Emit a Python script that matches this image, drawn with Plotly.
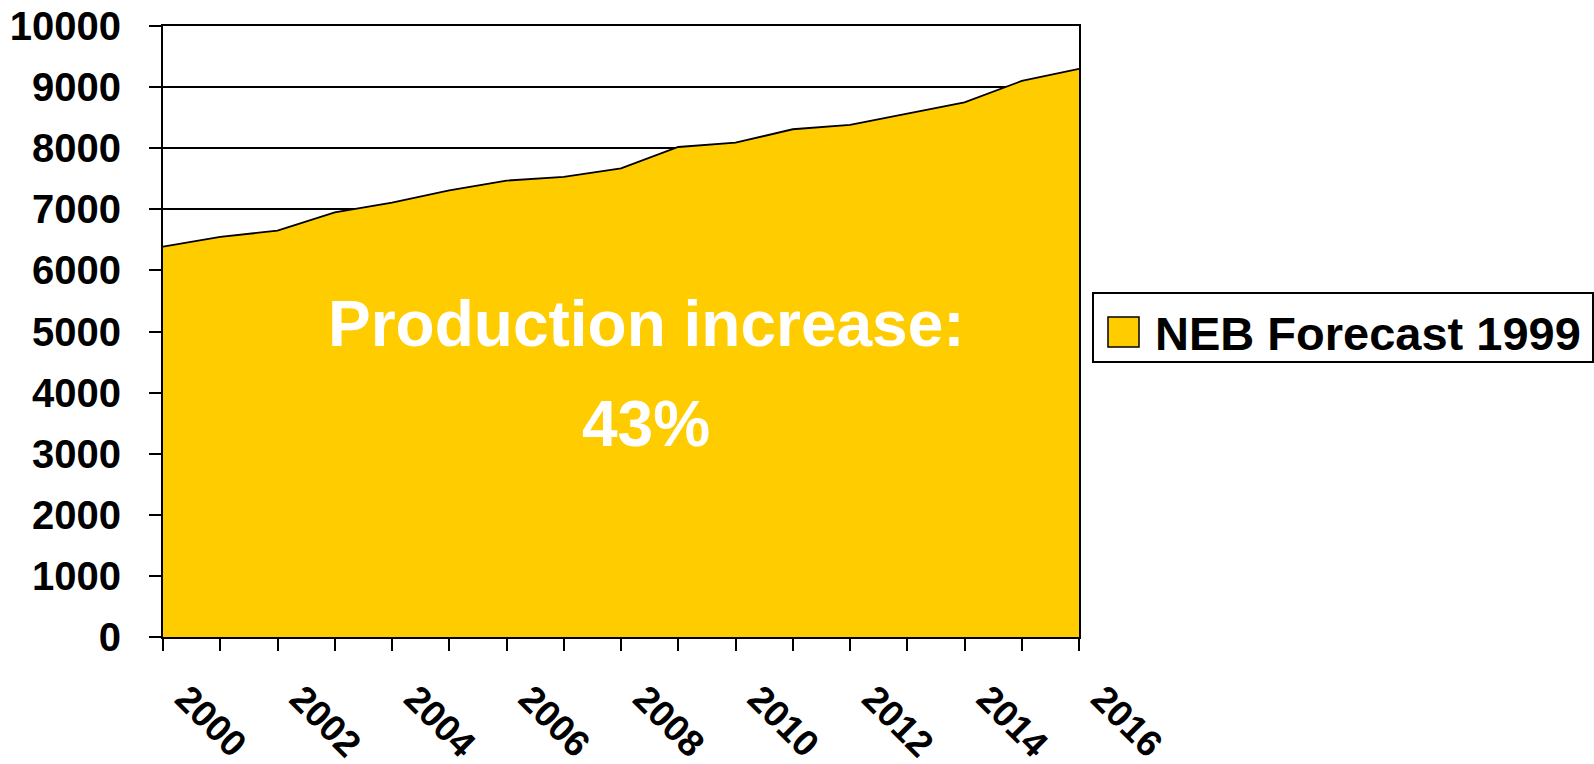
import plotly.graph_objects as go

years = list(range(2000, 2017))
production = [6390, 6550, 6650, 6950, 7110, 7310, 7470, 7530, 7670,
              8020, 8090, 8310, 8380, 8560, 8750, 9100, 9300]
series_name = "NEB Forecast 1999"
note_lines = ["Production increase:", "43%"]

W, H = 1594, 764
ML, MR, MT, MB = 163, 515, 26, 127
PW, PH = W - ML - MR, H - MT - MB

def px(x):
    return (x - ML) / PW

def py(y):
    return (H - MB - y) / PH

GOLD = "#FFCC00"
FONT = "Liberation Sans, Arial, sans-serif"

fig = go.Figure()
fig.add_trace(go.Scatter(
    x=years, y=production, mode="lines", fill="tozeroy",
    fillcolor=GOLD, line=dict(color="black", width=1.8),
    name=series_name, showlegend=False, hoverinfo="x+y"))

fig.update_layout(
    width=W, height=H,
    margin=dict(l=ML, r=MR, t=MT, b=MB, autoexpand=False),
    paper_bgcolor="white", plot_bgcolor="white",
    font=dict(family=FONT, color="black"),
    showlegend=False,
)
fig.update_xaxes(
    range=[2000, 2016], tick0=2000, dtick=2, automargin=False,
    ticks="outside", ticklen=12, tickwidth=2, tickcolor="black",
    tickangle=45, ticklabelstandoff=11, ticklabelshift=23,
    tickfont=dict(size=37, family=FONT, weight="bold", color="black"),
    showline=True, linecolor="black", linewidth=2, mirror=True,
    showgrid=False, zeroline=False,
    minor=dict(dtick=1, tick0=2000, ticks="outside", ticklen=12,
               tickwidth=2, tickcolor="black", showgrid=False),
)
fig.update_yaxes(
    range=[0, 10000], dtick=1000, tickformat="d", automargin=False,
    ticks="outside", ticklen=12, tickwidth=2, tickcolor="black",
    ticklabelstandoff=20,
    tickfont=dict(size=40, family=FONT, weight="bold", color="black"),
    showline=True, linecolor="black", linewidth=2, mirror=True,
    showgrid=True, gridcolor="black", gridwidth=1.5, zeroline=False,
)

# in-chart note, one annotation per line to keep the wide line spacing
note_font = dict(size=64, family=FONT, weight="bold", color="white")
fig.add_annotation(
    x=2008.44, y=5130, xref="x", yref="y", text=note_lines[0],
    showarrow=False, xanchor="center", yanchor="middle", font=note_font)
fig.add_annotation(
    x=2008.44, y=3490, xref="x", yref="y", text=note_lines[1],
    showarrow=False, xanchor="center", yanchor="middle", font=note_font)

# legend box (drawn manually to match the large swatch)
fig.add_shape(type="rect", xref="paper", yref="paper",
              x0=px(1093), x1=px(1593), y0=py(362), y1=py(293),
              line=dict(color="black", width=2), fillcolor="white")
fig.add_shape(type="rect", xref="paper", yref="paper",
              x0=px(1108), x1=px(1139), y0=py(347), y1=py(317),
              line=dict(color="black", width=1.5), fillcolor=GOLD)
fig.add_annotation(
    x=px(1153), y=py(333), xref="paper", yref="paper", text=series_name,
    showarrow=False, xanchor="left", yanchor="middle",
    font=dict(size=47, family=FONT, weight="bold", color="black"))

fig.write_html("out.html")
